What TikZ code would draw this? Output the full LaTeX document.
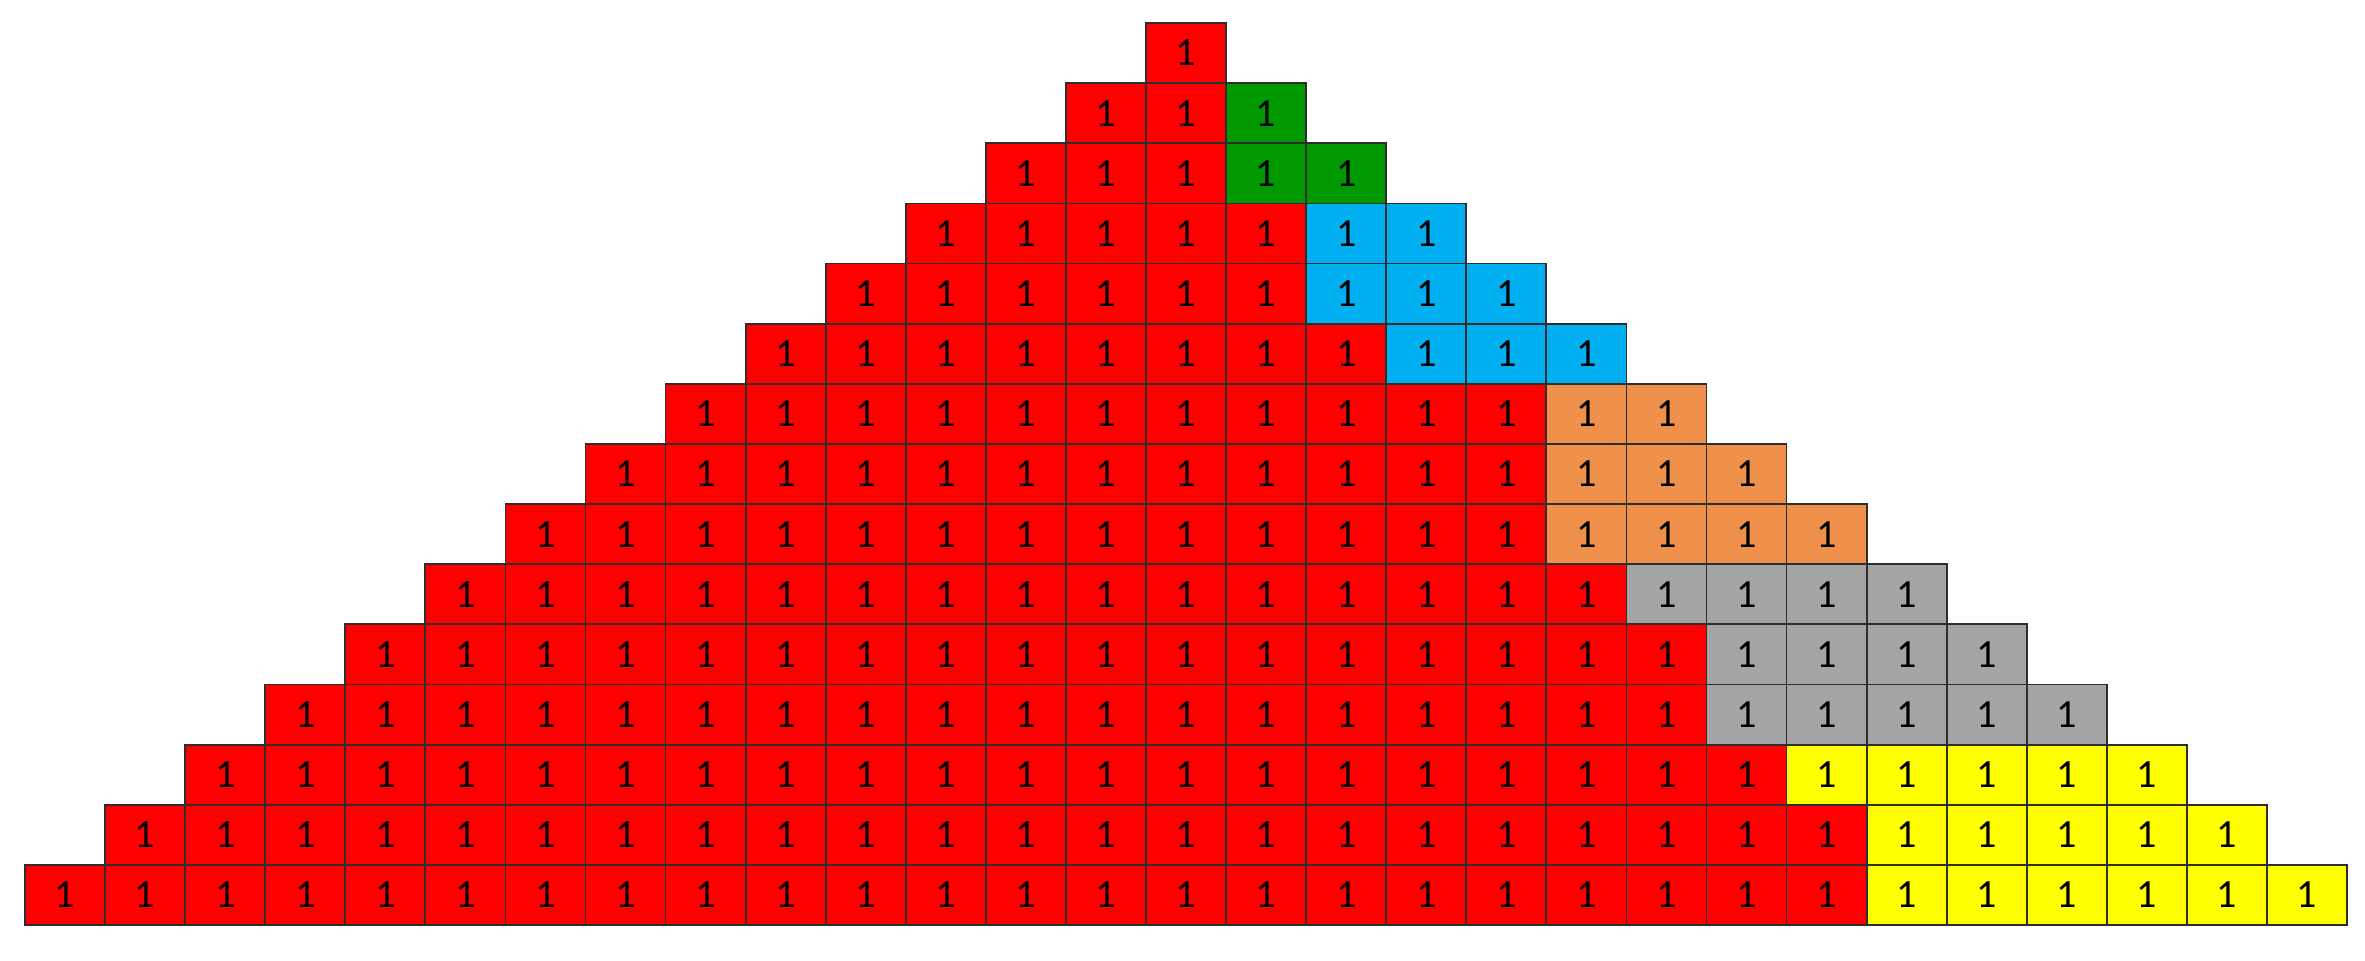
\documentclass[tikz,border=0pt]{standalone}
\usepackage{fontspec}
\setmainfont{Carlito}
\definecolor{cred}{HTML}{FF0000}
\definecolor{cgreen}{HTML}{009A00}
\definecolor{cblue}{HTML}{00B0F0}
\definecolor{corange}{HTML}{F0914B}
\definecolor{cgray}{HTML}{A5A5A5}
\definecolor{cyellow}{HTML}{FFFF00}
\begin{document}
\begin{tikzpicture}[x=0.5pt,y=-0.5pt]
\tikzset{cell/.style={draw=black!82, line width=0.9pt, minimum width=40.035pt, minimum height=30.07pt,
  inner sep=0pt, outer sep=0pt, font=\fontsize{20}{20}\selectfont, text=black}}
\useasboundingbox (0,0) rectangle (2365,960);
\foreach \r/\n/\c in {0/0/cred,1/1/cgreen,2/2/cgreen,3/2/cblue,4/3/cblue,5/3/cblue,
  6/2/corange,7/3/corange,8/4/corange,9/4/cgray,10/4/cgray,11/5/cgray,
  12/5/cyellow,13/5/cyellow,14/6/cyellow}{
  \pgfmathtruncatemacro\last{2*\r}
  \pgfmathtruncatemacro\first{2*\r-\n+1}
  \foreach \i in {0,...,\last}{
    \pgfmathsetmacro\xx{1186+(\i-\r)*80.07}
    \pgfmathsetmacro\yy{53.1+\r*60.13}
    \ifnum\i<\first\def\fc{cred}\else\edef\fc{\c}\fi
    \node[cell, fill=\fc] (c\r-\i) at (\xx,\yy) {1};
  }
}
\end{tikzpicture}
\end{document}
